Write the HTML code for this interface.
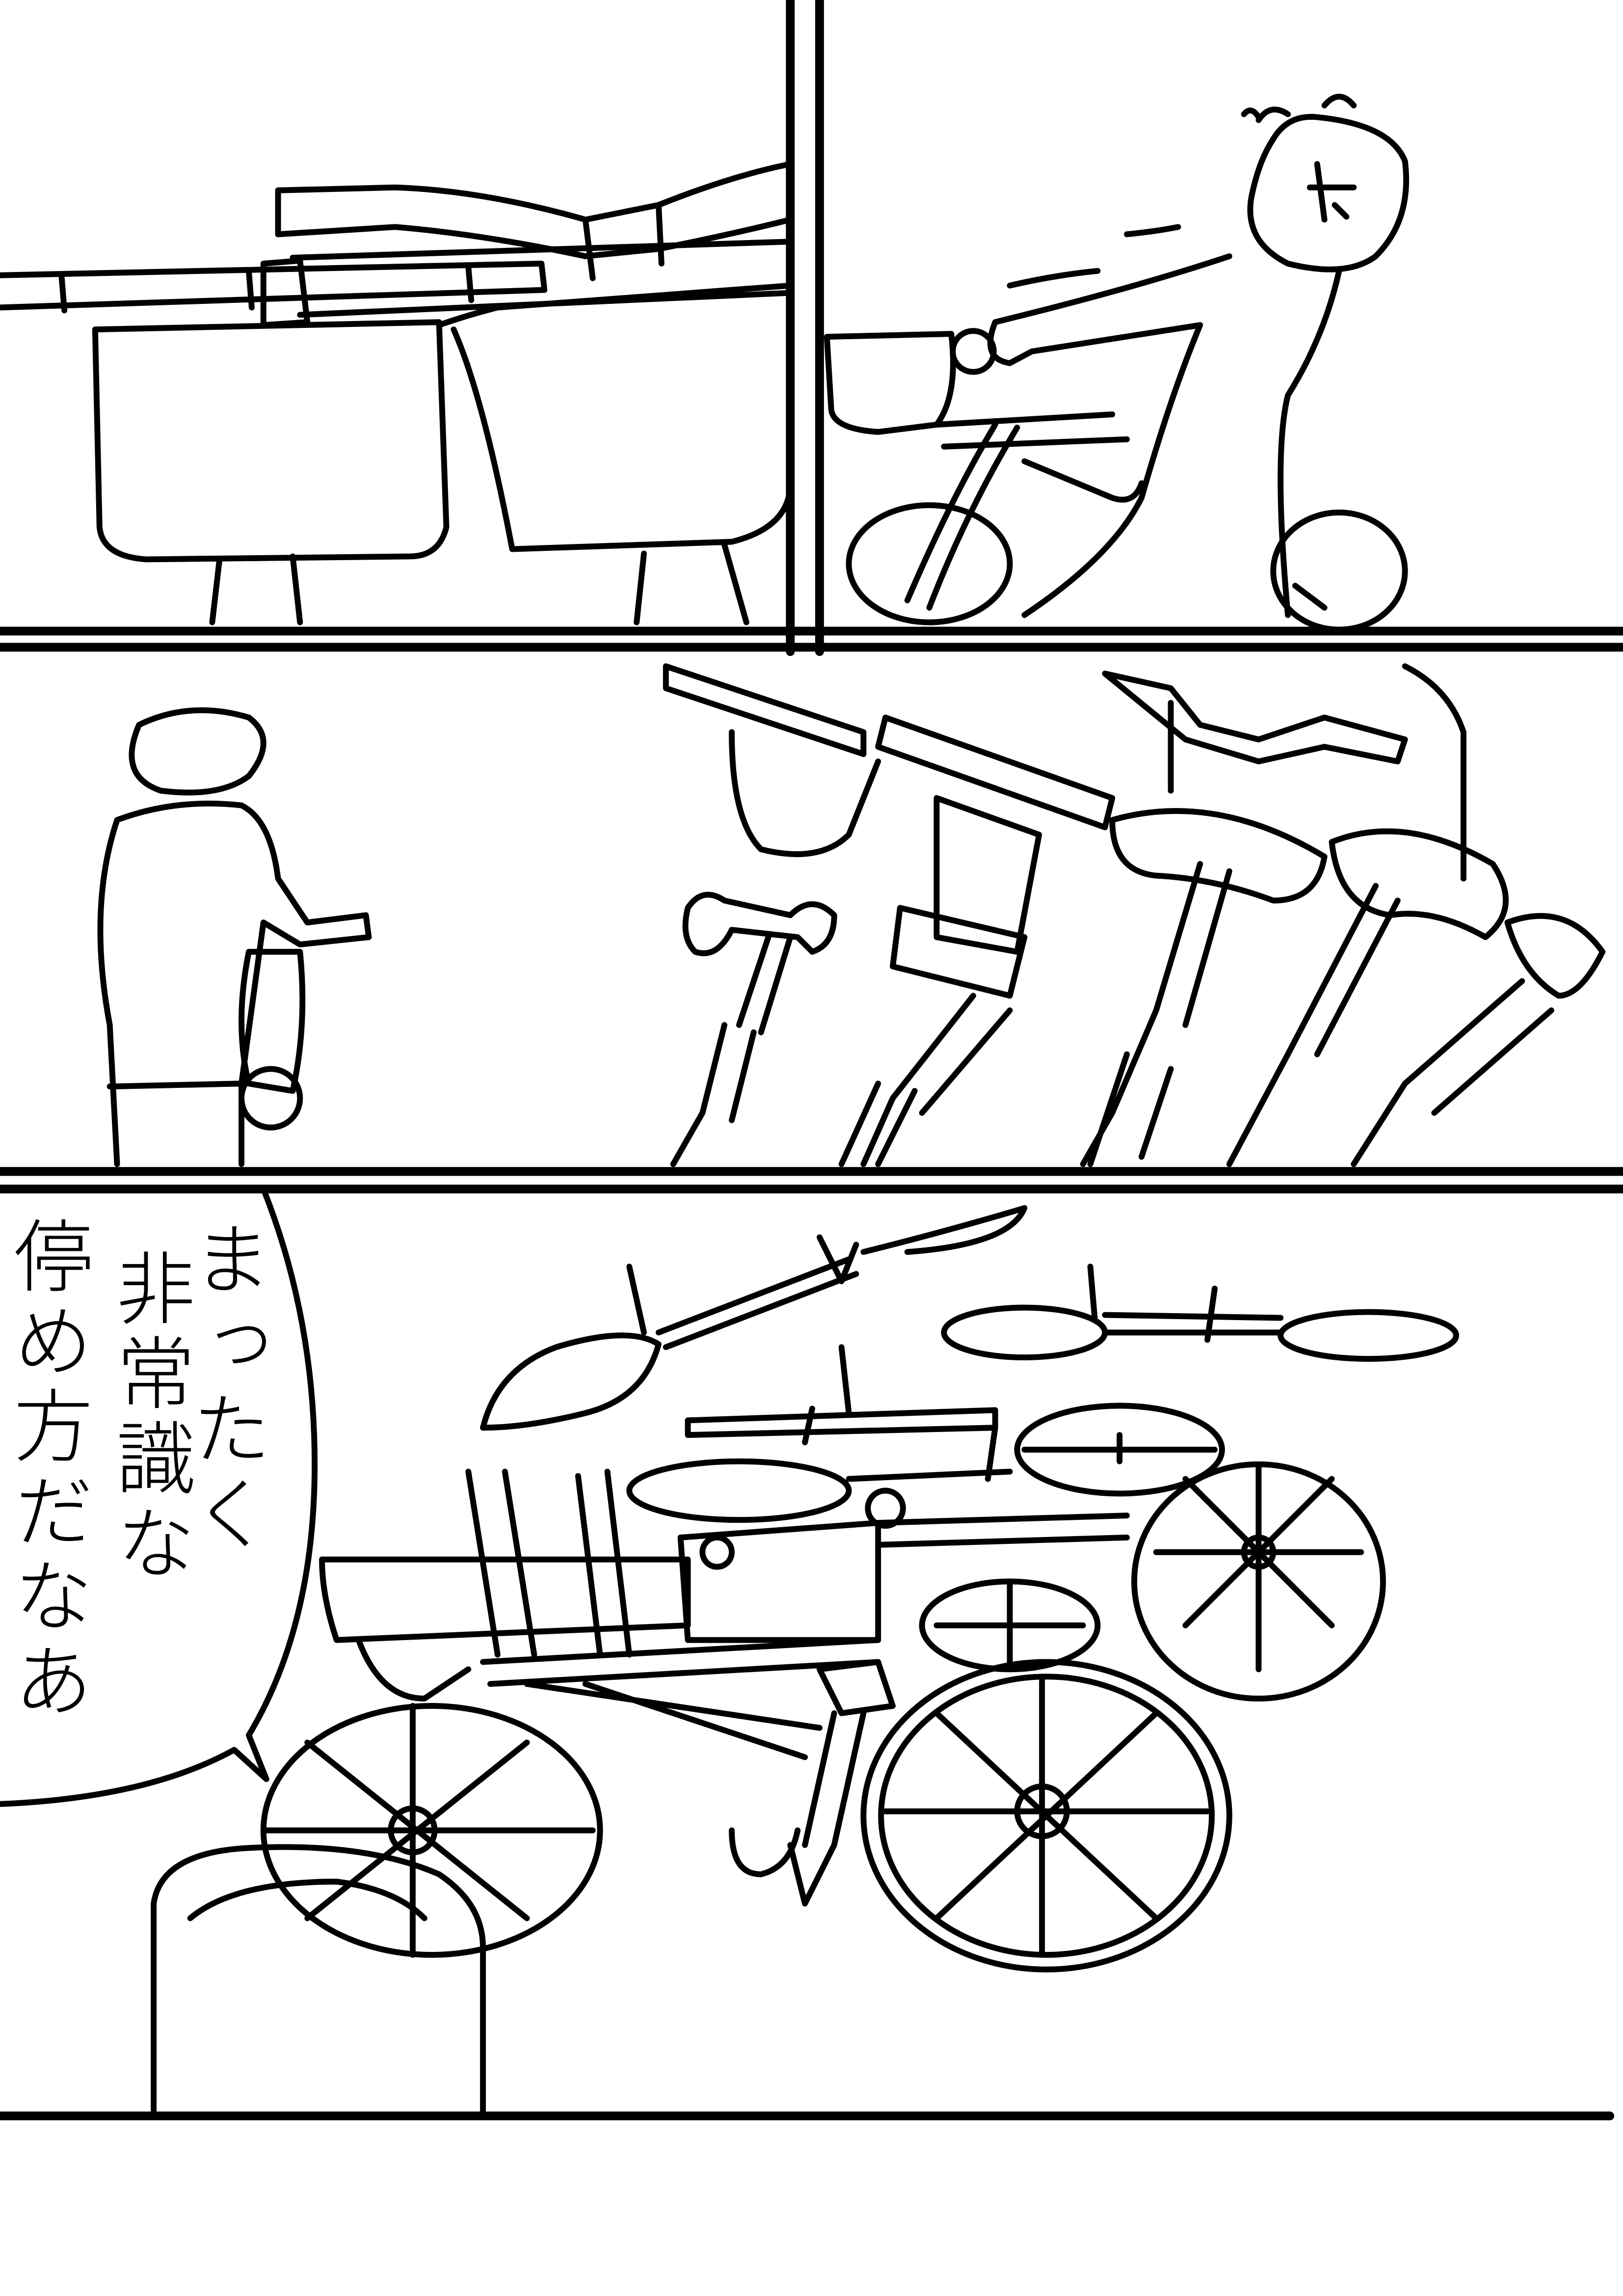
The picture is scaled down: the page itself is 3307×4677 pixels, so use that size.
<!DOCTYPE html>
<html><head><meta charset="utf-8"><style>
html,body{margin:0;padding:0;background:#fff;}
#page{position:absolute;left:0;top:0;width:1109px;height:1568px;transform:scale(2.982,2.9828);transform-origin:0 0;overflow:hidden;background:#fff;}
svg{position:absolute;left:0;top:0;}
.t{position:absolute;writing-mode:vertical-rl;font-family:"Liberation Sans","Noto Sans CJK JP",sans-serif;font-size:54px;line-height:1;letter-spacing:4px;color:#000;font-weight:300;}
</style></head><body><div id="page">
<svg width="1109" height="1568" viewBox="0 0 1109 1568" fill="none" stroke="#000" stroke-width="4" stroke-linecap="round" stroke-linejoin="round">
<g stroke-width="6">
<line x1="0" y1="431" x2="1109" y2="431"/>
<line x1="0" y1="442" x2="1109" y2="442"/>
<line x1="540" y1="0" x2="540" y2="445"/>
<line x1="560" y1="0" x2="560" y2="445"/>
<line x1="0" y1="800" x2="1109" y2="800"/>
<line x1="0" y1="812" x2="1109" y2="812"/>
<line x1="0" y1="1445" x2="1100" y2="1445"/>
</g>
<path d="M0 188 L370 180 L372 198 L0 210"/>
<path d="M42 188 L44 212 M170 185 L172 210 M320 182 L322 205"/>
<path d="M190 130 L270 128 Q330 130 400 150 L450 140 Q500 120 540 112"/>
<path d="M190 160 L270 155 Q330 160 400 175 L450 170 Q500 160 540 150"/>
<path d="M190 130 L190 160 M400 150 L405 190 M450 140 L452 180"/>
<path d="M180 180 L205 178 L210 220 L180 222 Z"/>
<path d="M200 176 L540 165 M205 215 L540 200"/>
<path d="M65 225 L300 220 L305 360 Q300 380 280 380 L100 382 Q70 380 68 360 Z"/>
<path d="M300 222 Q320 215 340 210 L540 195"/>
<path d="M310 225 Q330 270 350 375 L500 370 Q540 360 540 330"/>
<path d="M150 382 L145 425 M200 380 L205 425 M440 378 L435 425 M495 372 L510 425"/>
<path d="M870 95 Q860 110 855 135 Q850 165 880 180 Q920 190 940 175 Q965 150 960 110 Q950 85 900 80 Q880 78 870 95"/>
<path d="M860 82 Q868 70 880 78 M905 72 Q915 60 925 72 M850 78 Q855 72 860 80"/>
<path d="M895 128 L925 128 M900 112 L905 150 M912 140 L920 148"/>
<path d="M840 175 Q780 195 700 215 L680 220 Q670 245 690 248 L705 240 Q770 230 820 222"/>
<circle cx="665" cy="240" r="14"/>
<path d="M690 195 Q720 188 750 185 M770 160 Q790 158 805 155"/>
<path d="M820 222 Q800 270 780 340 Q760 380 700 420 M915 185 Q905 230 880 270 Q870 310 880 420"/>
<path d="M565 230 L650 228 Q655 270 640 290 L600 295 Q570 293 568 280 Z"/>
<path d="M640 290 L760 283 M645 305 L770 300"/>
<path d="M680 290 Q650 340 620 410 M695 292 Q660 350 635 415"/>
<ellipse cx="635" cy="385" rx="55" ry="40"/>
<ellipse cx="915" cy="390" rx="45" ry="40"/>
<path d="M700 315 L760 340 Q775 345 780 330"/>
<path d="M885 400 L905 415"/>
<path d="M95 495 Q80 530 110 540 Q150 545 170 530 Q190 505 170 490 Q130 478 95 495"/>
<path d="M80 560 Q60 620 75 700 L80 795 M80 560 Q120 545 165 550 Q185 560 190 600 L210 630 L250 625 L252 640 L205 645 L180 630 L165 740 L165 795"/>
<path d="M75 742 L165 740"/>
<path d="M170 650 Q160 700 170 740 L200 745 Q210 700 205 650 Z"/>
<ellipse cx="185" cy="750" rx="20" ry="20"/>
<path d="M455 455 L590 500 L590 515 L455 470 Z"/>
<path d="M500 500 Q500 560 520 580 Q560 590 580 570 L600 520"/>
<path d="M605 490 L760 545 L755 565 L600 510 Z"/>
<path d="M640 545 L710 570 L695 650 L640 640 Z"/>
<path d="M615 620 L700 640 L690 680 L610 660 Z"/>
<path d="M755 460 L800 470 L820 495 L860 505 L905 490 L960 505 L955 520 L905 510 L860 520 L810 505 Z"/>
<path d="M800 480 L800 540 M960 455 Q990 470 1000 500 L1000 600"/>
<path d="M760 560 Q830 540 905 585 Q900 615 870 615 Q830 600 790 598 Q760 595 760 560"/>
<path d="M910 575 Q960 555 1020 590 Q1040 620 1015 640 Q980 620 950 625 Q915 620 910 575"/>
<path d="M1030 630 Q1070 615 1095 650 Q1080 680 1065 680 Q1040 665 1030 630"/>
<path d="M470 620 Q480 605 495 615 L540 625 Q555 610 570 625 Q570 645 555 650 L545 640 L500 635 Q490 655 475 650 Q465 640 470 620"/>
<path d="M525 640 L505 700 M540 640 L520 705 M495 700 L480 760 L460 795 M515 705 L500 765"/>
<path d="M665 680 L610 750 L590 795 M690 690 L630 760"/>
<path d="M820 590 L790 690 L760 760 L740 795 M840 595 L810 700"/>
<path d="M940 605 L880 720 L840 795 M955 615 L900 720"/>
<path d="M1040 670 L960 740 L925 795 M1060 690 L980 760"/>
<path d="M600 740 L575 795 M625 745 L600 795 M770 720 L745 795 M800 730 L780 790"/>
<path d="M180 812 Q215 900 215 1000 Q215 1110 170 1185 L182 1215 L160 1195 Q100 1228 0 1232"/>
<path d="M330 975 Q340 935 380 920 Q430 905 450 918 Q440 955 400 965 Q360 975 330 975"/>
<path d="M450 910 L580 860 M455 920 L585 870 M430 865 L440 910 M585 850 L575 875 L560 845 M590 855 Q650 840 700 825 Q690 850 620 855"/>
<ellipse cx="700" cy="910" rx="55" ry="17"/>
<ellipse cx="935" cy="912" rx="60" ry="16"/>
<path d="M755 910 L875 910 M755 898 L875 900 M745 865 L748 900 M830 880 L825 915"/>
<path d="M470 970 L680 963 L680 975 L470 980 Z"/>
<path d="M575 920 L580 965 M555 962 L550 985"/>
<ellipse cx="765" cy="990" rx="70" ry="30"/>
<path d="M765 980 L765 998 M700 990 L830 990"/>
<ellipse cx="505" cy="1018" rx="75" ry="20"/>
<path d="M580 1010 L690 1005 M680 975 L675 1010"/>
<path d="M320 1005 L340 1130 M345 1005 L365 1130 M395 1008 L410 1130 M415 1005 L430 1130"/>
<path d="M220 1065 L470 1065 L470 1110 L230 1120 Q220 1090 220 1065"/>
<path d="M245 1120 Q260 1160 290 1160 L320 1140"/>
<path d="M465 1050 L600 1040 L600 1120 L470 1120 Z"/>
<circle cx="490" cy="1060" r="10"/>
<path d="M600 1040 L770 1035 M600 1055 L770 1050"/>
<ellipse cx="605" cy="1030" rx="12" ry="12"/>
<path d="M330 1135 L600 1120 M335 1150 L600 1135 M360 1150 L560 1180 M400 1150 L550 1200"/>
<ellipse cx="690" cy="1110" rx="60" ry="30"/>
<path d="M640 1110 L740 1110 M690 1080 L690 1140"/>
<ellipse cx="860" cy="1080" rx="85" ry="80"/>
<circle cx="860" cy="1060" r="10"/>
<path d="M860 1000 L860 1140 M790 1060 L930 1060 M810 1010 L910 1110 M910 1010 L810 1110"/>
<ellipse cx="295" cy="1250" rx="115" ry="85"/>
<circle cx="282" cy="1250" r="15"/>
<path d="M282 1165 L282 1335 M180 1250 L405 1250 M210 1190 L360 1310 M360 1190 L210 1310"/>
<ellipse cx="715" cy="1240" rx="125" ry="105"/>
<ellipse cx="715" cy="1240" rx="113" ry="95"/>
<circle cx="712" cy="1237" r="17"/>
<path d="M712 1145 L712 1335 M605 1237 L825 1237 M640 1170 L790 1310 M790 1170 L640 1310"/>
<path d="M560 1140 L600 1135 L610 1165 L575 1170 Z"/>
<path d="M570 1170 L550 1260 M590 1170 L570 1260 L550 1300 L540 1260"/>
<path d="M500 1250 Q500 1280 520 1280 Q540 1275 545 1250"/>
<path d="M105 1445 L105 1300 Q110 1265 170 1262 Q250 1258 300 1280 Q330 1300 330 1330 L330 1445"/>
<path d="M130 1310 Q160 1285 230 1285 Q270 1290 290 1310"/>
</svg>
<div class="t" style="left:126px;top:832px;">まったく</div>
<div class="t" style="left:74px;top:852px;">非常識な</div>
<div class="t" style="left:4px;top:830px;">停め方だなあ</div>
</div></body></html>
